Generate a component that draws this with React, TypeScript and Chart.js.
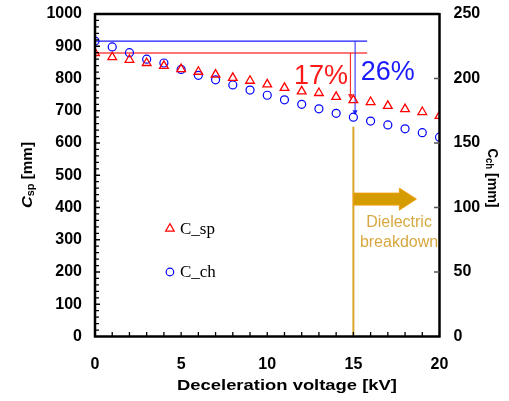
import React, { useEffect, useRef } from 'react';
import { Chart, registerables } from 'chart.js';

Chart.register(...registerables);

// ---- data ----
const voltage = [0, 1, 2, 3, 4, 5, 6, 7, 8, 9, 10, 11, 12, 13, 14, 15, 16, 17, 18, 19, 20];
const cSp = [879, 866, 858, 848, 839, 829, 821, 812, 802, 793, 782, 771, 760, 755, 743, 733, 727, 715, 705, 696, 684];
const cCh = [229, 224.5, 220, 215, 212, 207, 202.5, 199, 195, 191, 187, 183.5, 180, 176.5, 173, 170, 167, 164, 161, 158, 154.5];
const breakdownVoltage = 15;
const refLineEnd = 15.8;
const spDrop = '17%';
const chDrop = '26%';

const W = 509;
const H = 401;

type Seg = { text: string; font: string; dy: number };

function drawRich(ctx: CanvasRenderingContext2D, segs: Seg[], cx: number, cy: number, angle: number, targetLen: number) {
  ctx.save();
  ctx.translate(cx, cy);
  ctx.rotate(angle);
  let total = 0;
  const widths = segs.map((s) => {
    ctx.font = s.font;
    const w = ctx.measureText(s.text).width;
    total += w;
    return w;
  });
  ctx.scale(targetLen / total, 1);
  let xPos = -total / 2;
  ctx.textBaseline = 'middle';
  ctx.textAlign = 'left';
  ctx.fillStyle = '#000';
  segs.forEach((s, i) => {
    ctx.font = s.font;
    ctx.fillText(s.text, xPos, s.dy);
    xPos += widths[i];
  });
  ctx.restore();
}

function arrowDown(ctx: CanvasRenderingContext2D, x: number, y0: number, y1: number, color: string, lw: number) {
  ctx.strokeStyle = color;
  ctx.fillStyle = color;
  ctx.lineWidth = lw;
  ctx.beginPath();
  ctx.moveTo(x, y0);
  ctx.lineTo(x, y1 - 4);
  ctx.stroke();
  ctx.beginPath();
  ctx.moveTo(x - 2.5, y1 - 5);
  ctx.lineTo(x + 2.5, y1 - 5);
  ctx.lineTo(x, y1);
  ctx.closePath();
  ctx.fill();
}

const overlay = {
  id: 'overlay',
  beforeDatasetsDraw(chart: any) {
    const { ctx, scales } = chart;
    const { x, y, y2 } = scales;
    const idx = voltage.indexOf(breakdownVoltage);
    ctx.save();
    const x0 = x.getPixelForValue(0);
    const xe = x.getPixelForValue(refLineEnd);
    const yRed = y.getPixelForValue(cSp[0]);
    const yBlue = y2.getPixelForValue(cCh[0]);
    ctx.lineWidth = 1.5;
    ctx.strokeStyle = '#FF4646';
    ctx.beginPath();
    ctx.moveTo(x0, yRed);
    ctx.lineTo(xe, yRed);
    ctx.stroke();
    ctx.lineWidth = 1.2;
    ctx.strokeStyle = '#1A1AFF';
    ctx.beginPath();
    ctx.moveTo(x0, yBlue);
    ctx.lineTo(xe, yBlue);
    ctx.stroke();
    arrowDown(ctx, x.getPixelForValue(14.83), yRed, y.getPixelForValue(cSp[idx]) - 1, '#FF3030', 1.2);
    arrowDown(ctx, x.getPixelForValue(15.1), yBlue, y2.getPixelForValue(cCh[idx]) - 2, '#2020FF', 1);
    const xg = x.getPixelForValue(breakdownVoltage);
    ctx.strokeStyle = '#D9A62A';
    ctx.lineWidth = 2;
    ctx.beginPath();
    ctx.moveTo(xg, y2.getPixelForValue(cCh[idx]) + 9.5);
    ctx.lineTo(xg, chart.chartArea.bottom);
    ctx.stroke();
    ctx.restore();
  },
  afterDraw(chart: any) {
    const { ctx, scales, chartArea } = chart;
    const { x, y, y2 } = scales;
    const { left, right, top, bottom } = chartArea;
    ctx.save();

    const xg = x.getPixelForValue(breakdownVoltage);
    const ya = y.getPixelForValue(426);
    ctx.fillStyle = '#D49C00';
    ctx.strokeStyle = '#F0A010';
    ctx.lineWidth = 1;
    ctx.beginPath();
    ctx.moveTo(xg, ya - 6);
    ctx.lineTo(xg + 46, ya - 6);
    ctx.lineTo(xg + 46, ya - 11);
    ctx.lineTo(xg + 63, ya);
    ctx.lineTo(xg + 46, ya + 11);
    ctx.lineTo(xg + 46, ya + 6);
    ctx.lineTo(xg, ya + 6);
    ctx.closePath();
    ctx.fill();
    ctx.stroke();

    ctx.fillStyle = '#D7A840';
    ctx.font = '16px "Liberation Sans", Arial, sans-serif';
    ctx.textAlign = 'center';
    ctx.textBaseline = 'middle';
    ctx.fillText('Dielectric', x.getPixelForValue(17.65), y.getPixelForValue(352));
    ctx.fillText('breakdown', x.getPixelForValue(17.65), y.getPixelForValue(290));

    ctx.font = '27px "Liberation Sans", Arial, sans-serif';
    ctx.fillStyle = '#FF1A1A';
    ctx.fillText(spDrop, x.getPixelForValue(13.12), y.getPixelForValue(805));
    ctx.fillStyle = '#1A1AFF';
    ctx.fillText(chDrop, x.getPixelForValue(17.0), y.getPixelForValue(820));

    const lx = x.getPixelForValue(4.35);
    const lyT = y.getPixelForValue(336);
    const lyC = y.getPixelForValue(200);
    ctx.lineWidth = 1.2;
    ctx.strokeStyle = '#FF0000';
    ctx.beginPath();
    ctx.moveTo(lx, lyT - 4.5);
    ctx.lineTo(lx + 4.3, lyT + 3);
    ctx.lineTo(lx - 4.3, lyT + 3);
    ctx.closePath();
    ctx.stroke();
    ctx.strokeStyle = '#0000FF';
    ctx.beginPath();
    ctx.arc(lx, lyC, 3.8, 0, Math.PI * 2);
    ctx.stroke();
    ctx.fillStyle = '#000';
    ctx.font = '17px "Liberation Serif", "Times New Roman", serif';
    ctx.textAlign = 'left';
    ctx.fillText('C_sp', lx + 10, lyT + 1);
    ctx.fillText('C_ch', lx + 10, lyC + 1);

    ctx.strokeStyle = '#000';
    ctx.lineWidth = 2.5;
    ctx.beginPath();
    ctx.moveTo(left, top);
    ctx.lineTo(right, top);
    ctx.moveTo(left, top - 1);
    ctx.lineTo(left, bottom + 1);
    ctx.moveTo(left - 1, bottom);
    ctx.lineTo(right + 1, bottom);
    ctx.moveTo(right, top - 1);
    ctx.lineTo(right, bottom + 1);
    ctx.stroke();

    ctx.lineWidth = 1.3;
    ctx.beginPath();
    for (let v = 1; v < 20; v++) {
      const px = x.getPixelForValue(v);
      ctx.moveTo(px, bottom);
      ctx.lineTo(px, bottom - 4.5);
    }
    for (let v = 20; v < 1000; v += 20) {
      const py = y.getPixelForValue(v);
      ctx.moveTo(left, py);
      ctx.lineTo(left + (v % 100 === 0 ? 5 : 4), py);
    }
    ctx.stroke();
    ctx.strokeStyle = '#555';
    ctx.beginPath();
    for (let v = 50; v < 250; v += 50) {
      const py = y2.getPixelForValue(v);
      ctx.moveTo(right, py);
      ctx.lineTo(right - 5.5, py);
    }
    ctx.stroke();

    drawRich(ctx, [{ text: 'Deceleration voltage [kV]', font: 'bold 15px "Liberation Sans", Arial, sans-serif', dy: 0 }], 287, 386, 0, 220);
    drawRich(
      ctx,
      [
        { text: 'C', font: 'italic bold 15px "Liberation Sans", Arial, sans-serif', dy: 0 },
        { text: 'sp', font: 'bold 10px "Liberation Sans", Arial, sans-serif', dy: 3 },
        { text: ' [mm]', font: 'bold 14px "Liberation Sans", Arial, sans-serif', dy: 0 },
      ],
      28,
      175,
      -Math.PI / 2,
      66
    );
    drawRich(
      ctx,
      [
        { text: 'C', font: 'bold 14px "Liberation Sans", Arial, sans-serif', dy: 0 },
        { text: 'ch', font: 'bold 10px "Liberation Sans", Arial, sans-serif', dy: 3 },
        { text: ' [mm]', font: 'bold 15px "Liberation Sans", Arial, sans-serif', dy: 0 },
      ],
      492,
      178,
      Math.PI / 2,
      59
    );
    ctx.restore();
  },
};

const tickFont = { family: '"Liberation Sans", Arial, sans-serif', size: 16, weight: 'bold' as const };
const plainLabel = (v: any) => String(v);
const zeroPad = (s: any) => {
  s.paddingTop = 0;
  s.paddingBottom = 0;
  s.paddingLeft = 0;
  s.paddingRight = 0;
};

export default function App() {
  const ref = useRef<HTMLCanvasElement>(null);
  useEffect(() => {
    document.body.style.margin = '0';
    const canvas = ref.current!;
    const chart = new Chart(canvas, {
      type: 'scatter',
      data: {
        datasets: [
          {
            label: 'C_sp',
            data: voltage.map((v, i) => ({ x: v, y: cSp[i] })),
            yAxisID: 'y',
            pointStyle: 'triangle',
            pointRadius: 5,
            borderColor: '#FF0000',
            backgroundColor: 'rgba(0,0,0,0)',
            borderWidth: 1.3,
          },
          {
            label: 'C_ch',
            data: voltage.map((v, i) => ({ x: v, y: cCh[i] })),
            yAxisID: 'y2',
            pointStyle: 'circle',
            pointRadius: 4,
            borderColor: '#0000FF',
            backgroundColor: 'rgba(0,0,0,0)',
            borderWidth: 1.2,
          },
        ],
      },
      options: {
        responsive: false,
        animation: false,
        events: [],
        layout: { padding: { top: 14, left: 0, right: 0, bottom: 0 } },
        plugins: { legend: { display: false }, tooltip: { enabled: false } },
        scales: {
          x: {
            type: 'linear',
            min: 0,
            max: 20,
            ticks: { stepSize: 5, font: tickFont, color: '#000', padding: 18, callback: plainLabel },
            grid: { display: false, drawTicks: false },
            border: { display: false },
            afterFit: (s: any) => {
              s.height = 64.5;
              zeroPad(s);
            },
          },
          y: {
            position: 'left',
            min: 0,
            max: 1000,
            ticks: { stepSize: 100, font: tickFont, color: '#000', padding: 13, callback: plainLabel },
            grid: { display: false, drawTicks: false },
            border: { display: false },
            afterFit: (s: any) => {
              s.width = 95;
              zeroPad(s);
            },
          },
          y2: {
            position: 'right',
            min: 0,
            max: 250,
            ticks: { stepSize: 50, font: tickFont, color: '#000', padding: 14, callback: plainLabel },
            grid: { display: false, drawTicks: false },
            border: { display: false },
            afterFit: (s: any) => {
              s.width = 69.5;
              zeroPad(s);
            },
          },
        },
      },
      plugins: [overlay],
    });
    return () => chart.destroy();
  }, []);
  return (
    <div style={{ position: 'fixed', left: 0, top: 0, width: W, height: H, background: '#fff' }}>
      <canvas ref={ref} width={W} height={H} style={{ width: W, height: H }} />
    </div>
  );
}
